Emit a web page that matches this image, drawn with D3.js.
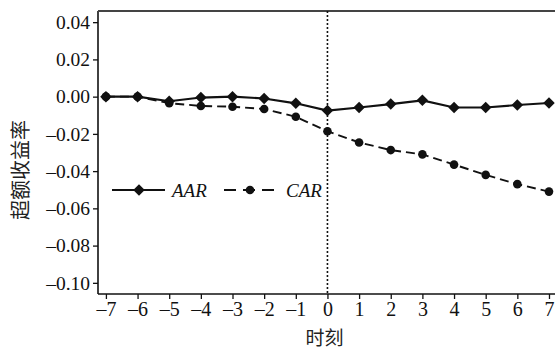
<!DOCTYPE html>
<html>
<head>
<meta charset="utf-8">
<script src="https://cdn.jsdelivr.net/npm/d3@7"></script>
<style>
  body { margin: 0; background: #fff; }
  svg { display: block; }
</style>
</head>
<body>
<div id="chart"></div>
<script>
// data
var periods = [-7, -6, -5, -4, -3, -2, -1, 0, 1, 2, 3, 4, 5, 6, 7];
var aar = [0.000, 0.000, -0.0025, -0.0005, 0.000, -0.001, -0.0036, -0.0075, -0.0058, -0.004, -0.002, -0.0058, -0.0058, -0.0045, -0.0034];
var car = [0.000, 0.000, -0.0035, -0.005, -0.0054, -0.0066, -0.0108, -0.0186, -0.0246, -0.0287, -0.031, -0.0365, -0.042, -0.047, -0.051];
var yTicks = [0.04, 0.02, 0.00, -0.02, -0.04, -0.06, -0.08, -0.10];
var seriesNames = ["AAR", "CAR"];
var xTitle = "时刻";
var yTitle = "超额收益率";

var svg_w = 555, svg_h = 352;
var padL = 98, padT = 11, padR = 555, padB = 294;
var serif = "'Liberation Serif', 'Times New Roman', serif";
var cjk = "'Noto Sans CJK SC', sans-serif";

var svg = d3.select("#chart").append("svg")
  .attr("width", svg_w)
  .attr("height", svg_h);

var x = d3.scaleLinear().domain([-7.25, 7.19]).range([padL, padR]);
var y = d3.scaleLinear().domain([-0.106, 0.046]).range([padB, padT]);

function fmt(v) {
  var s = Math.abs(v).toFixed(2);
  return (v < -1e-9 ? "\u2013" : "") + s;
}

// y axis
var yAxis = d3.axisLeft(y).tickValues(yTicks).tickSize(5).tickPadding(3).tickFormat(fmt);
var gy = svg.append("g").attr("transform", "translate(" + padL + ",0)").call(yAxis);
gy.select(".domain").attr("stroke", "#111").attr("stroke-width", 1.6).attr("d", "M0," + padT + "V" + padB);
gy.selectAll(".tick line").attr("stroke", "#111").attr("stroke-width", 1.3);
gy.selectAll(".tick text").attr("font-family", serif).attr("font-size", 19.5).attr("fill", "#111");

// x axis
var xAxis = d3.axisBottom(x).tickValues(periods).tickSize(5).tickPadding(3)
  .tickFormat(function(d) { return d < 0 ? "\u2013" + Math.abs(d) : String(d); });
var gx = svg.append("g").attr("transform", "translate(0," + padB + ")").call(xAxis);
gx.select(".domain").attr("stroke", "#111").attr("stroke-width", 1.6).attr("d", "M" + padL + ",0H" + padR);
gx.selectAll(".tick line").attr("stroke", "#111").attr("stroke-width", 1.3);
gx.selectAll(".tick text").attr("font-family", serif).attr("font-size", 20).attr("fill", "#111");

// top border
svg.append("line")
  .attr("x1", padL).attr("x2", padR)
  .attr("y1", padT).attr("y2", padT)
  .attr("stroke", "#444").attr("stroke-width", 1.8);

// event day line
svg.append("line")
  .attr("x1", x(0)).attr("x2", x(0))
  .attr("y1", padT).attr("y2", padB)
  .attr("stroke", "#111").attr("stroke-width", 1.6)
  .attr("stroke-dasharray", "2,2");

var line = d3.line().x(function(d) { return x(d[0]); }).y(function(d) { return y(d[1]); });
var aarData = periods.map(function(p, i) { return [p, aar[i]]; });
var carData = periods.map(function(p, i) { return [p, car[i]]; });

svg.append("path").datum(carData).attr("d", line)
  .attr("fill", "none").attr("stroke", "#111").attr("stroke-width", 1.9)
  .attr("stroke-dasharray", "9,5");
svg.append("path").datum(aarData).attr("d", line)
  .attr("fill", "none").attr("stroke", "#111").attr("stroke-width", 2.1);

// rotated square as diamond marker
var diamond = d3.symbol().type(d3.symbolSquare).size(66);

svg.selectAll(".car-pt").data(carData).enter().append("circle")
  .attr("class", "car-pt")
  .attr("cx", function(d) { return x(d[0]); })
  .attr("cy", function(d) { return y(d[1]); })
  .attr("r", 4.3).attr("fill", "#111");

svg.selectAll(".aar-pt").data(aarData).enter().append("path")
  .attr("class", "aar-pt")
  .attr("d", diamond)
  .attr("transform", function(d) { return "translate(" + x(d[0]) + "," + y(d[1]) + ") rotate(45)"; })
  .attr("fill", "#111");

// legend
var lg = svg.append("g").attr("transform", "translate(0,190)");
lg.append("line").attr("x1", 112).attr("x2", 165).attr("y1", 0).attr("y2", 0)
  .attr("stroke", "#111").attr("stroke-width", 2.1);
lg.append("path").attr("d", diamond).attr("transform", "translate(139,0) rotate(45)").attr("fill", "#111");
lg.append("text").attr("x", 172).attr("y", 6.5).text(seriesNames[0])
  .attr("font-family", serif).attr("font-style", "italic").attr("font-size", 19).attr("fill", "#111");
lg.append("line").attr("x1", 224).attr("x2", 278).attr("y1", 0).attr("y2", 0)
  .attr("stroke", "#111").attr("stroke-width", 1.9).attr("stroke-dasharray", "12,7");
lg.append("circle").attr("cx", 250).attr("cy", 0).attr("r", 4.3).attr("fill", "#111");
lg.append("text").attr("x", 286).attr("y", 6.5).text(seriesNames[1])
  .attr("font-family", serif).attr("font-style", "italic").attr("font-size", 19).attr("fill", "#111");

// titles
svg.append("text")
  .attr("x", x(0) - 3).attr("y", 345)
  .attr("text-anchor", "middle")
  .attr("font-family", cjk).attr("font-size", 19).attr("fill", "#222")
  .text(xTitle);

svg.append("text")
  .attr("transform", "translate(28,170) rotate(-90)")
  .attr("text-anchor", "middle")
  .attr("font-family", cjk).attr("font-size", 20).attr("fill", "#222")
  .text(yTitle);
</script>
</body>
</html>
